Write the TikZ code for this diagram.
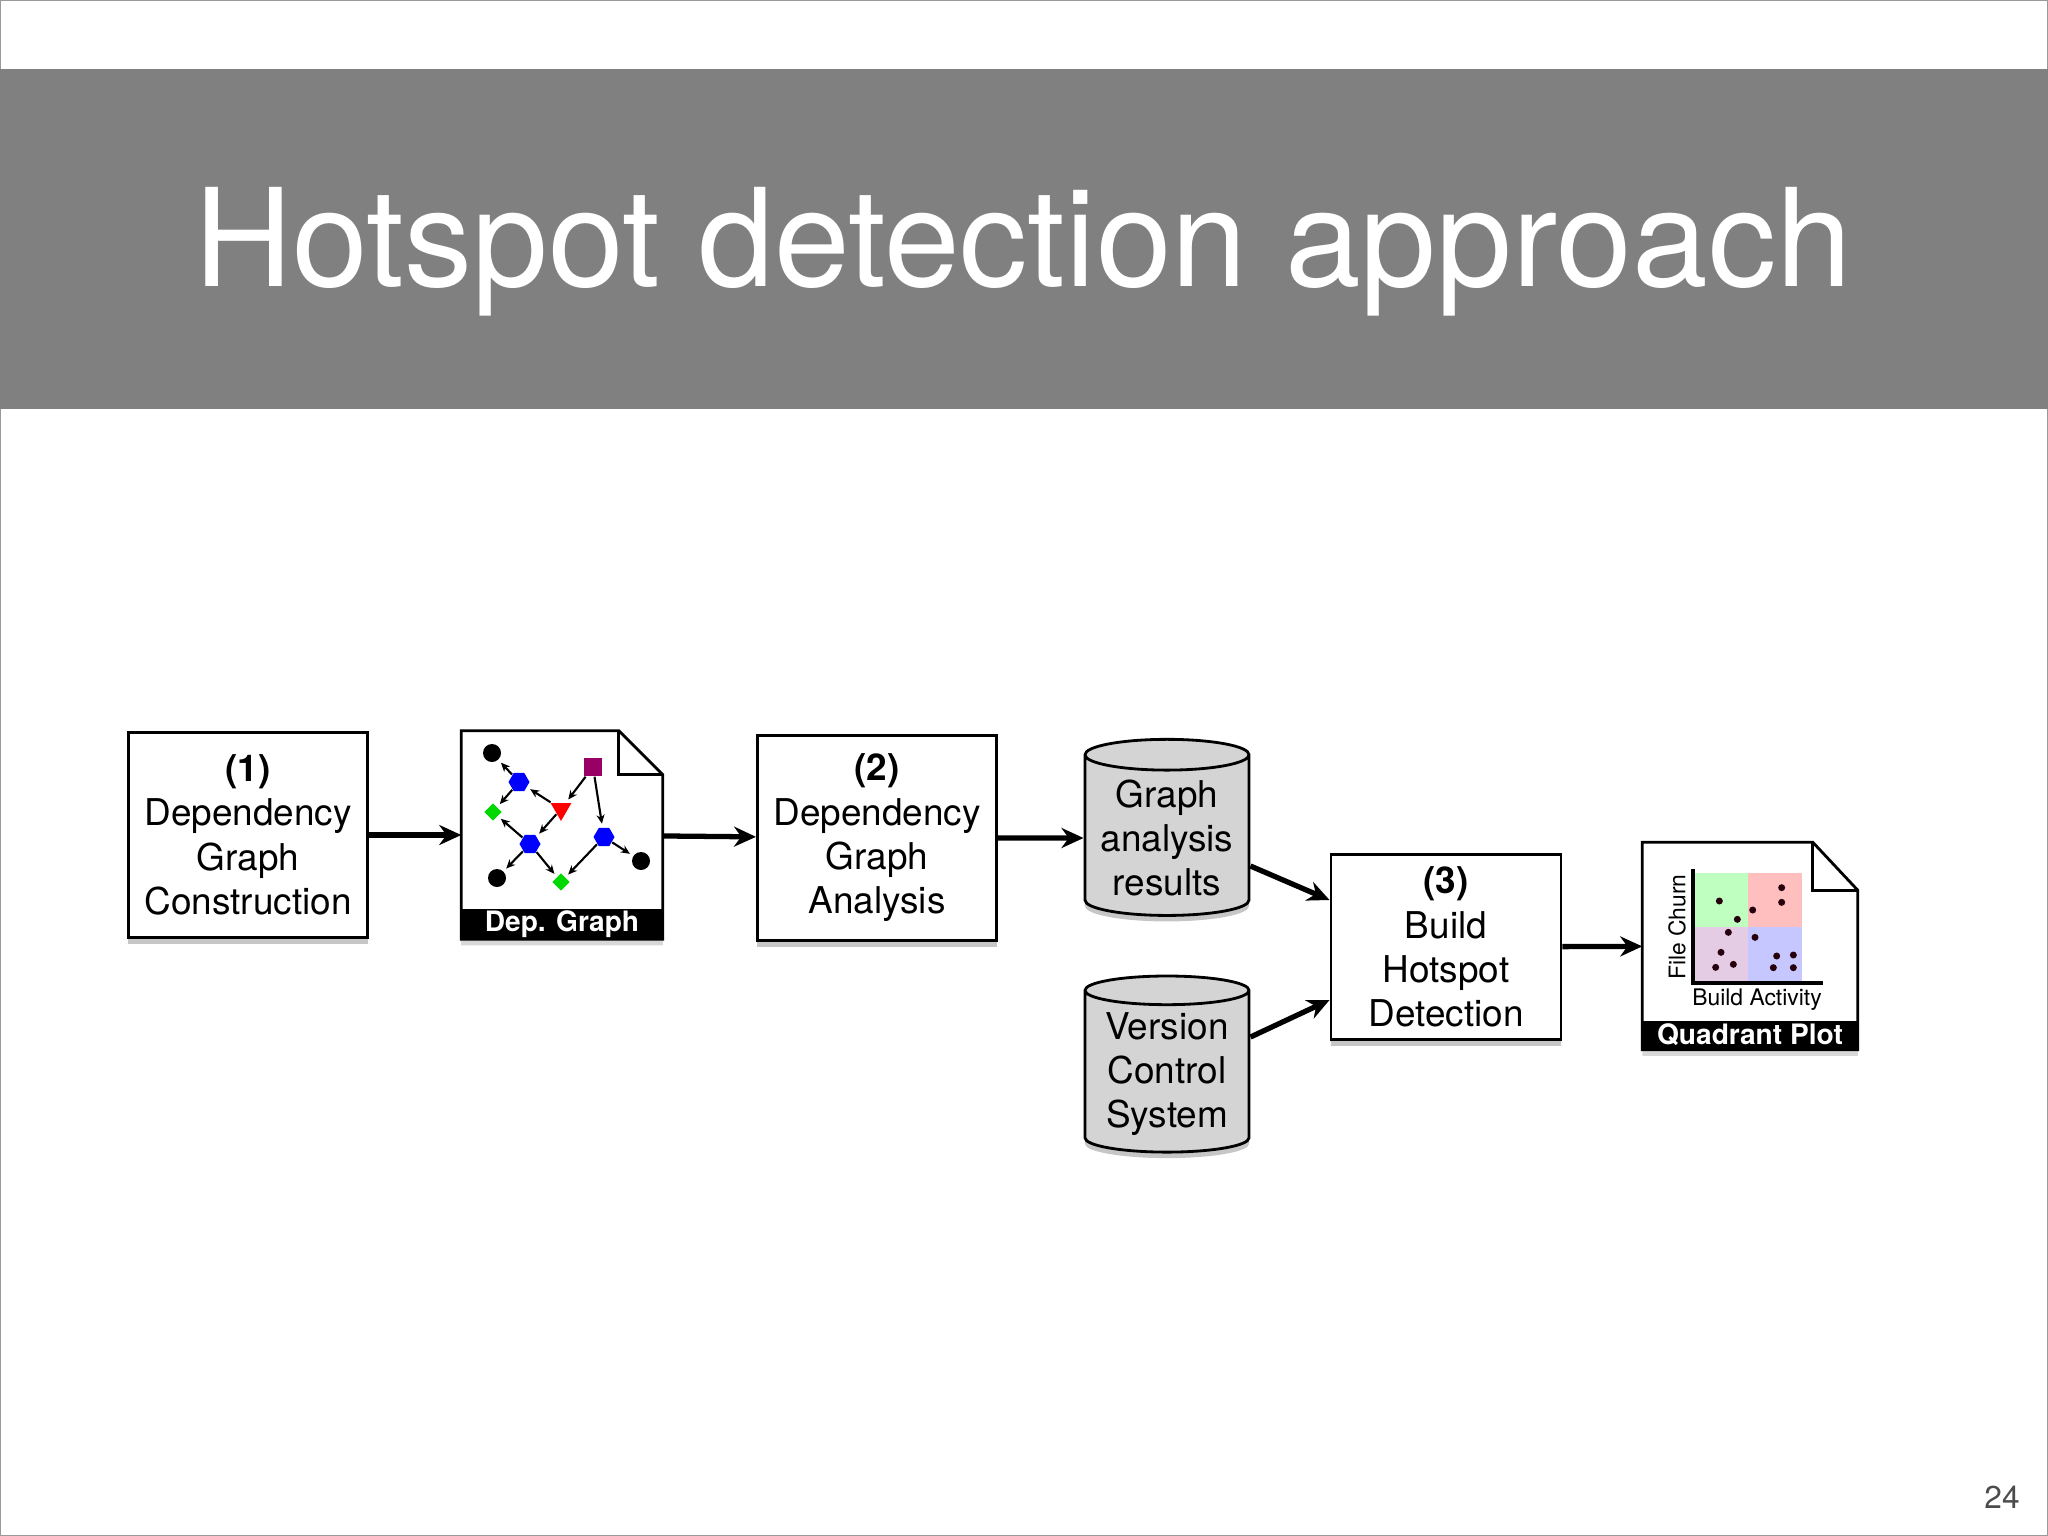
\documentclass[tikz,border=0pt]{standalone}
\usepackage{fontspec}
\setmainfont{TeX Gyre Heros}
\usetikzlibrary{positioning,calc,shapes.geometric,arrows.meta,shadows}
\definecolor{bandgray}{HTML}{808080}
\definecolor{cylgray}{HTML}{D4D4D4}
\tikzset{
  stage/.style={draw, thick, fill=white, minimum width=2.39cm, minimum height=2.05cm,
    align=center, font=\fontsize{10.5pt}{12.6pt}\selectfont,
    drop shadow={shadow xshift=0pt, shadow yshift=-0.06cm, opacity=.45}},
  store/.style={cylinder, shape border rotate=90, aspect=0.22, draw, thick, fill=cylgray,
    minimum width=1.64cm, minimum height=1.76cm, align=center, inner sep=1pt,
    font=\fontsize{10.5pt}{12.6pt}\selectfont,
    drop shadow={shadow xshift=0pt, shadow yshift=-0.06cm, opacity=.45}},
  doc/.style={minimum width=2.0cm, minimum height=2.07cm, inner sep=0pt},
  flow/.style={-{Stealth[length=0.22cm, width=0.2cm]}, line width=1.5pt},
  mini/.style={-{Stealth[length=0.09cm, width=0.08cm]}, line width=0.6pt, shorten >=1pt},
  dot/.style={circle, fill=black, minimum size=0.18cm, inner sep=0pt},
  hex/.style={regular polygon, regular polygon sides=6, fill=blue, minimum size=0.21cm, inner sep=0pt},
  dia/.style={diamond, fill=green!85!black, minimum size=0.18cm, inner sep=0pt},
  qdot/.style={circle, fill=black!80!purple, minimum size=0.07cm, inner sep=0pt},
  tag/.style={text=white, font=\fontsize{8pt}{9pt}\selectfont\bfseries}
}
\begin{document}
\begin{tikzpicture}[x=0.01cm, y=-0.01cm]
  \useasboundingbox (0,0) rectangle (2048,1536);
  \draw[black!40] (0,0) rectangle (2048,1536);

  % Title band
  \fill[bandgray] (0,69) rectangle (2048,409);
  \node[text=white, font=\fontsize{38.7pt}{42pt}\selectfont] (title) at (1023,252) {Hotspot detection approach};

  % Process steps
  \node[stage] (s1) at (248,835) {\textbf{(1)}\\Dependency\\Graph\\Construction};
  \node[stage] (s2) at (877,838) {\textbf{(2)}\\Dependency\\Graph\\Analysis};
  \node[stage, minimum width=2.3cm, minimum height=1.85cm] (s3) at (1446,947) {\textbf{(3)}\\Build\\Hotspot\\Detection};

  % Data stores
  \node[store] (res) at (1167,838) {Graph\\analysis\\results};
  \node[store] (vcs) at (1167,1074) {Version\\Control\\System};

  % Dependency graph document
  \node[doc] (dg) at (562,835) {};
  \fill[black!30, opacity=.5] ($(dg.north west)+(0,6)$) -- ($(dg.north east)+(-44,6)$) -- ($(dg.north east)+(0,50)$)
    -- ($(dg.south east)+(0,6)$) -- ($(dg.south west)+(0,6)$) -- cycle;
  \draw[thick, fill=white] (dg.north west) -- ($(dg.north east)+(-44,0)$) -- ($(dg.north east)+(0,44)$)
    -- (dg.south east) -- (dg.south west) -- cycle;
  \draw[thick] ($(dg.north east)+(-44,0)$) -- ($(dg.north east)+(-44,44)$) -- ($(dg.north east)+(0,44)$);
  \fill[black] ($(dg.south west)+(0,-30)$) rectangle (dg.south east);
  \node[tag] (dgl) at ($(dg.south)+(0,-15)$) {Dep. Graph};
  \node[dot] (ga) at (492,753) {};
  \node[hex] (gb) at (519,782) {};
  \node[dia] (gc) at (493,812) {};
  \node[isosceles triangle, shape border rotate=-90, isosceles triangle apex angle=60, fill=red, minimum size=0.18cm, inner sep=0pt] (gd) at (561,809) {};
  \node[fill=violet!80!red, minimum size=0.18cm, inner sep=0pt] (ge) at (593,767) {};
  \node[hex] (gf) at (530,844) {};
  \node[hex] (gg) at (604,837) {};
  \node[dot] (gh) at (497,878) {};
  \node[dia] (gi) at (561,882) {};
  \node[dot] (gj) at (641,861) {};
  \foreach \a/\b in {gb/ga, gb/gc, gd/gb, ge/gd, ge/gg, gd/gf, gf/gc, gf/gh, gf/gi, gg/gi, gg/gj}
    \draw[mini] (\a) -- (\b);

  % Quadrant plot document
  \node[doc, minimum width=2.14cm, minimum height=2.06cm] (qp) at (1750,946) {};
  \fill[black!30, opacity=.5] ($(qp.north west)+(0,6)$) -- ($(qp.north east)+(-45,6)$) -- ($(qp.north east)+(0,54)$)
    -- ($(qp.south east)+(0,6)$) -- ($(qp.south west)+(0,6)$) -- cycle;
  \draw[thick, fill=white] (qp.north west) -- ($(qp.north east)+(-45,0)$) -- ($(qp.north east)+(0,48)$)
    -- (qp.south east) -- (qp.south west) -- cycle;
  \draw[thick] ($(qp.north east)+(-45,0)$) -- ($(qp.north east)+(-45,48)$) -- ($(qp.north east)+(0,48)$);
  \fill[black] ($(qp.south west)+(0,-29)$) rectangle (qp.south east);
  \node[tag] (qpl) at ($(qp.south)+(0,-15)$) {Quadrant Plot};
  \fill[green!25] (1695,873) rectangle (1748,927);
  \fill[red!25] (1748,873) rectangle (1802,927);
  \fill[violet!20] (1695,927) rectangle (1748,981);
  \fill[blue!22] (1748,927) rectangle (1802,981);
  \coordinate (qo) at (1693,983);
  \draw[line width=1.2pt] (1693,869) -- (qo) -- (1823,983);
  \node[rotate=90, font=\fontsize{6.5pt}{7pt}\selectfont] (qy) at (1677,927) {File Churn};
  \node[font=\fontsize{6.5pt}{7pt}\selectfont] (qx) at (1757,1000) {Build Activity};
  \foreach \zx/\zy in {268/213, 322/268, 368/240, 455/173, 455/217, 295/307, 273/367, 257/412,
    310/403, 375/322, 440/378, 490/375, 430/413, 490/413}
    \node[qdot] at ({1630+\zx/3},{830+\zy/3}) {};

  % Flow
  \draw[flow] (s1) -- (dg);
  \draw[flow] (dg) -- (s2);
  \draw[flow] (s2) -- (res);
  \draw[flow] (res.east |- 0,866) -- (s3.west |- 0,900);
  \draw[flow] (vcs.east |- 0,1037) -- (s3.west |- 0,1000);
  \draw[flow] (s3) -- (qp);

  \node[font=\fontsize{9pt}{10pt}\selectfont, text=black!70] (pg) at (2002,1497) {24};
\end{tikzpicture}
\end{document}
